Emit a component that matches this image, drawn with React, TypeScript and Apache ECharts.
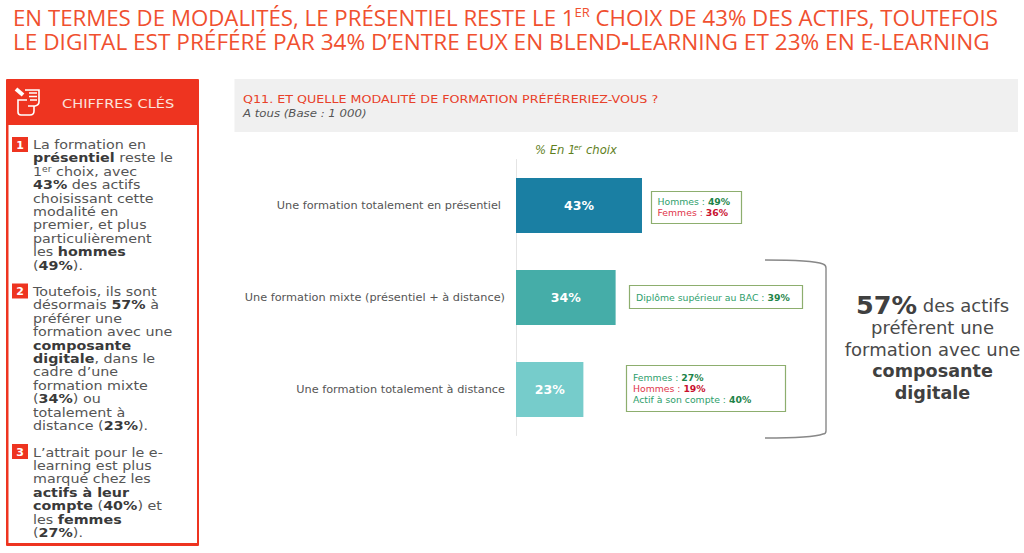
import React, { useEffect, useRef } from "react";
import * as echarts from "echarts";

const categories = [
  "Une formation totalement en présentiel",
  "Une formation mixte (présentiel + à distance)",
  "Une formation totalement à distance",
];
const values = [43, 34, 23];
const barColors = ["#1A7FA3", "#45ADA8", "#76CCCB"];

const titleLine1 = "{t|EN TERMES DE MODALITÉS, LE PRÉSENTIEL RESTE LE 1}{s|ER}{t| CHOIX DE 43% DES ACTIFS, TOUTEFOIS}";
const titleLine2 = "{u|LE DIGITAL EST PRÉFÉRÉ PAR 34% D’ENTRE EUX EN BLEND}{h|-}{u|LEARNING ET 23% EN E-LEARNING}";
const question = "Q11. ET QUELLE MODALITÉ DE FORMATION PRÉFÉRERIEZ-VOUS ?";
const base = "A tous (Base : 1 000)";
const panelTitle = "CHIFFRES CLÉS";

const para1 = [
  "{n|La formation en}",
  "{b|présentiel}{n| reste le}",
  "{n|1}{s|er}{n| choix, avec}",
  "{b|43%}{n| des actifs}",
  "{n|choisissant cette}",
  "{n|modalité en}",
  "{n|premier, et plus}",
  "{n|particulièrement}",
  "{n|les }{b|hommes}",
  "{n|(}{b|49%}{n|).}",
];
const para2 = [
  "{n|Toutefois, ils sont}",
  "{n|désormais }{b|57%}{n| à}",
  "{n|préférer une}",
  "{n|formation avec une}",
  "{b|composante}",
  "{b|digitale}{n|, dans le}",
  "{n|cadre d’une}",
  "{n|formation mixte}",
  "{n|(}{b|34%}{n|) ou}",
  "{n|totalement à}",
  "{n|distance (}{b|23%}{n|).}",
];
const para3 = [
  "{n|L’attrait pour le e-}",
  "{n|learning est plus}",
  "{n|marqué chez les}",
  "{b|actifs à leur}",
  "{b|compte}{n| (}{b|40%}{n|) et}",
  "{n|les }{b|femmes}",
  "{n|(}{b|27%}{n|).}",
];
const callout1 = ["{g|Hommes : }{G|49%}", "{r|Femmes : }{R|36%}"];
const callout2 = ["{g|Diplôme supérieur au BAC : }{G|39%}"];
const callout3 = ["{g|Femmes : }{G|27%}", "{r|Hommes : }{R|19%}", "{g|Actif à son compte : }{G|40%}"];
const summary = [
  "{B|57%}{n| des actifs}",
  "{n|préfèrent une}",
  "{n|formation avec une}",
  "{b|composante}",
  "{b|digitale}",
];

const F = "'DejaVu Sans', sans-serif";
const OS = "'Open Sans', sans-serif";
const RED = "#EE3420";

echarts.graphic.registerShape(
  "bracketPath",
  echarts.graphic.extendPath(
    "M765 260 C790 260 815 261 823 264 Q826 265 826 268 L826 431 Q826 434 823 434 C815 437 790 438 765 438",
    {}
  ) as any
);
echarts.graphic.registerShape(
  "iconPath",
  echarts.graphic.extendPath(
    "M25 90 L39 90 L39 102 Q39 105 35 106 L34 106 L34 111 Q34 115 30 115 L21 115 Q18 115 18 112 L18 100 L27 100 M29 93 L37 93 M29 96.5 L37 96.5 M30 100 L37 100 M34 106 L28 106",
    {}
  ) as any
);

const paraRich = {
  n: { fontFamily: F, fontSize: 12.5, fill: "#555555", lineHeight: 13.4 },
  b: { fontFamily: F, fontSize: 12.5, fontWeight: "bold", fill: "#3A3A3A", lineHeight: 13.4 },
  s: { fontFamily: F, fontSize: 8, fill: "#555555", lineHeight: 13.4, verticalAlign: "top" },
};
const calloutRich = {
  g: { fontFamily: F, fontSize: 9.3, fill: "#2E9E6B", lineHeight: 11 },
  G: { fontFamily: F, fontSize: 9.3, fontWeight: "bold", fill: "#1E8449", lineHeight: 11 },
  r: { fontFamily: F, fontSize: 9.3, fill: "#E0344A", lineHeight: 11 },
  R: { fontFamily: F, fontSize: 9.3, fontWeight: "bold", fill: "#C8102E", lineHeight: 11 },
};

function txt(x: number, y: number, lines: string[], rich: any, align = "left", scaleX = 1) {
  return {
    type: "text",
    z: 10,
    x,
    y,
    scaleX,
    style: { x: 0, y: 0, text: lines.join("\n"), rich, align, verticalAlign: "top" },
  };
}
function plain(x: number, y: number, text: string, fill: string, font: string, scaleX = 1) {
  return {
    type: "text",
    z: 10,
    x,
    y,
    scaleX,
    style: { x: 0, y: 0, text, verticalAlign: "middle", fill, font },
  };
}
function box(x: number, y: number, w: number, h: number) {
  return {
    type: "rect",
    z: 5,
    shape: { x: x + 0.5, y: y + 0.5, width: w, height: h },
    style: { fill: "#fff", stroke: "#8DAE6E", lineWidth: 1.2 },
  };
}
function num(y: number, n: string) {
  return [
    { type: "rect", z: 5, shape: { x: 12, y, width: 16, height: 15 }, style: { fill: RED } },
    {
      type: "text",
      z: 10,
      style: {
        x: 20,
        y: y + 8,
        text: n,
        align: "center",
        verticalAlign: "middle",
        fill: "#fff",
        font: `bold 11px ${F}`,
      },
    },
  ];
}

const titleRich = {
  t: { fontFamily: OS, fontSize: 22.25, fill: "#F0502F", lineHeight: 24 },
  u: { fontFamily: OS, fontSize: 22.6, fill: "#F0502F", lineHeight: 24 },
  h: { fontFamily: OS, fontSize: 22.6, fontWeight: "bold", fill: "#F0502F", lineHeight: 24 },
  s: { fontFamily: OS, fontSize: 13, fill: "#F0502F", lineHeight: 24, verticalAlign: "top" },
};

export default function App() {
  const ref = useRef<HTMLDivElement>(null);
  useEffect(() => {
    document.body.style.margin = "0";
    const chart = echarts.init(ref.current!, null, { renderer: "svg" });
    chart.setOption({
      animation: false,
      backgroundColor: "#ffffff",
      grid: { left: 516, top: 159.5, width: 293, height: 276 },
      xAxis: { type: "value", min: 0, max: 100, show: false },
      yAxis: {
        type: "category",
        inverse: true,
        data: categories.map((c, i) => ({
          value: c,
          textStyle: i === 0 ? { padding: [0, 4, 0, 0] } : {},
        })),
        axisLine: { lineStyle: { color: "#E4E4E4" } },
        axisTick: { length: 3, lineStyle: { color: "#E4E4E4" } },
        axisLabel: { color: "#555555", fontFamily: F, fontSize: 11.3, margin: 11 },
      },
      series: [
        {
          type: "bar",
          barWidth: 55,
          data: values.map((v, i) => ({ value: v, itemStyle: { color: barColors[i] } })),
          label: {
            show: true,
            position: "inside",
            formatter: "{c}%",
            color: "#fff",
            fontFamily: F,
            fontWeight: "bold",
            fontSize: 12.5,
          },
        },
      ],
      graphic: {
        elements: [
          txt(13, 5, [titleLine1, titleLine2], titleRich),
          { type: "rect", z: 1, shape: { x: 234.5, y: 79, width: 783.5, height: 53 }, style: { fill: "#F0F0F0" } },
          plain(243, 99, question, "#E8412A", `11px ${F}`, 1.155),
          plain(243, 113.5, base, "#555555", `italic 10.5px ${F}`, 1.118),
          { type: "rect", z: 1, shape: { x: 6, y: 79, width: 193, height: 467, r: 1 }, style: { fill: RED } },
          { type: "rect", z: 2, shape: { x: 8.5, y: 125, width: 188.5, height: 418 }, style: { fill: "#fff" } },
          { type: "iconPath", z: 5, shape: {}, style: { fill: "none", stroke: "#fff", lineWidth: 1.6 } },
          { type: "line", z: 5, shape: { x1: 16, y1: 89, x2: 23, y2: 95 }, style: { stroke: "#fff", lineWidth: 4 } },
          plain(62, 103, panelTitle, "#FBE3DC", `12.5px ${F}`, 1.167),
          ...num(137, "1"),
          ...num(283.5, "2"),
          ...num(444, "3"),
          txt(33, 138.2, para1, paraRich, "left", 1.145),
          txt(33, 285.2, para2, paraRich, "left", 1.145),
          txt(33, 445.7, para3, paraRich, "left", 1.145),
          plain(535, 150, "% En 1", "#5F7F1E", `italic 11.6px ${F}`),
          plain(574, 147.5, "er", "#5F7F1E", `italic 7.5px ${F}`),
          plain(586, 150, "choix", "#5F7F1E", `italic 11.6px ${F}`),
          box(651, 191, 90, 32),
          txt(657.5, 195.5, callout1, calloutRich),
          box(629, 285, 173, 23),
          txt(636, 292, callout2, calloutRich),
          box(626, 365, 159, 46),
          txt(633, 372, callout3, calloutRich),
          { type: "bracketPath", z: 5, shape: {}, style: { fill: "none", stroke: "#888888", lineWidth: 1.4 } },
          txt(932.5, 294, summary, {
            B: { fontFamily: F, fontSize: 25.5, fontWeight: "bold", fill: "#404040", lineHeight: 22 },
            n: { fontFamily: F, fontSize: 18, fill: "#4A4A4A", lineHeight: 22 },
            b: { fontFamily: F, fontSize: 17.6, fontWeight: "bold", fill: "#404040", lineHeight: 22 },
          }, "center"),
        ],
      },
    });
    return () => chart.dispose();
  }, []);
  return <div ref={ref} style={{ width: 1024, height: 553 }} />;
}
